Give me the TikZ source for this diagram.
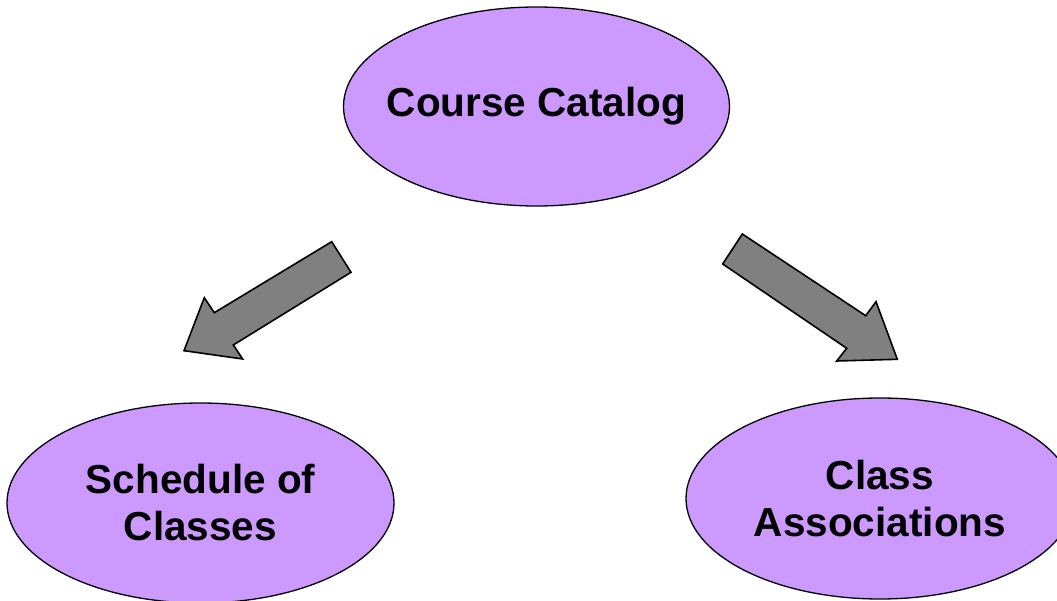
\documentclass[tikz,border=0pt]{standalone}
\usepackage{fontspec}
\setmainfont{Liberation Sans}
\usetikzlibrary{shapes.geometric}
\definecolor{lilac}{HTML}{CC99FF}
\definecolor{arrowgray}{HTML}{808080}
\tikzset{
  oval/.style={ellipse, draw=black, line width=1.3pt, fill=lilac, inner sep=-30pt,
    font=\fontsize{40.5}{47}\selectfont\bfseries, align=center},
  blockarrow/.style={draw=black, line width=1.6pt, fill=arrowgray, line join=miter}
}
\begin{document}
\begin{tikzpicture}[x=1pt,y=-1pt]
\useasboundingbox (0,0) rectangle (1057,601);
\node[oval, minimum width=386pt, minimum height=199pt] (cat) at (536.5,106.5) {Course Catalog};
\node[oval, minimum width=387pt, minimum height=200pt] (sched) at (200.5,503) {Schedule of\\Classes};
\node[oval, minimum width=388pt, minimum height=201pt] (assoc) at (880,498.5) {Class\\Associations};
% left block arrow
\draw[blockarrow] (331.7,241.7) -- (351,272.3) -- (233.3,345) -- (242.7,359) -- (184,350.7)
  -- (204.3,297.7) -- (214.3,312.7) -- cycle;
% right block arrow
\draw[blockarrow] (742.3,234) -- (722.7,264) -- (846.7,348.3) -- (836.7,361) -- (897.3,359.3)
  -- (876,301.7) -- (865.7,315.7) -- cycle;
\end{tikzpicture}
\end{document}
